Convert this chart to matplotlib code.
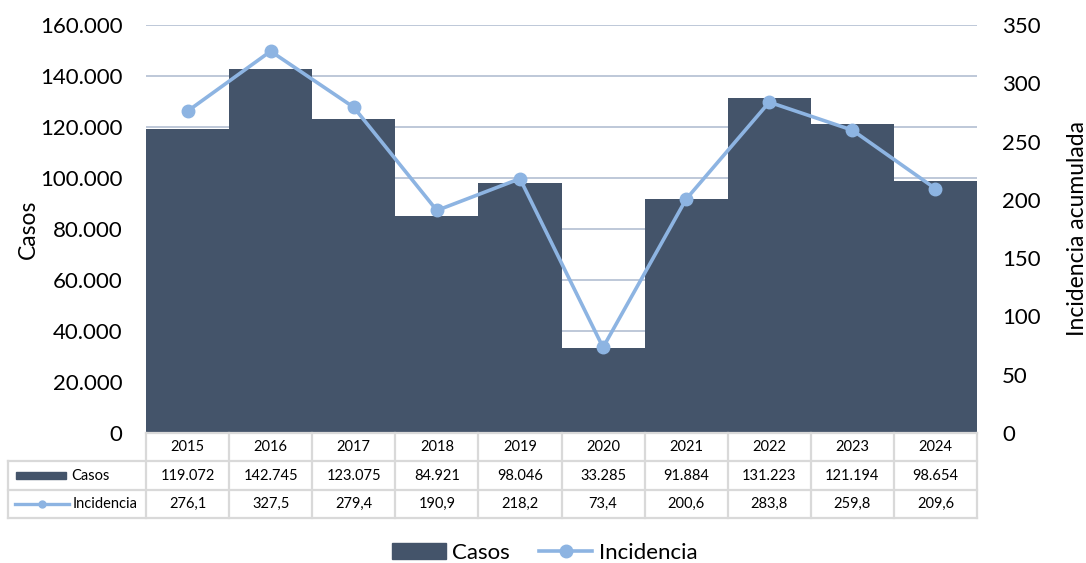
import matplotlib
matplotlib.use("Agg")
import matplotlib.pyplot as plt
from matplotlib.patches import Rectangle
from matplotlib.lines import Line2D

plt.rcParams['font.family'] = ['Lato', 'DejaVu Sans']

years = ["2015", "2016", "2017", "2018", "2019", "2020", "2021", "2022", "2023", "2024"]
casos = [119072, 142745, 123075, 84921, 98046, 33285, 91884, 131223, 121194, 98654]
incidencia = [276.1, 327.5, 279.4, 190.9, 218.2, 73.4, 200.6, 283.8, 259.8, 209.6]
left_ticks = [0, 20000, 40000, 60000, 80000, 100000, 120000, 140000, 160000]
right_ticks = [0, 50, 100, 150, 200, 250, 300, 350]

BAR = "#44546A"
LINE = "#8DB4E2"
GRID = "#B9C4D6"
BORDER = "#D9D9D9"
TXT = "#000000"

def fmt_int(v):
    return f"{v:,}".replace(",", ".")

def fmt_dec(v):
    return f"{v:.1f}".replace(".", ",")

W, H = 1086, 563
fig = plt.figure(figsize=(W / 100, H / 100), dpi=100)

x0, x1 = 146, 977
ytop, ybot = 25, 433
ax = fig.add_axes([x0 / W, (H - ybot) / H, (x1 - x0) / W, (ybot - ytop) / H])
xs = list(range(len(years)))
ax.bar(xs, casos, width=1.0, color=BAR, zorder=2, linewidth=0)
ax.set_xlim(-0.5, len(years) - 0.5)
ax.set_ylim(0, 160000)
ax.set_yticks(left_ticks)
ax.set_yticklabels([fmt_int(t) if t else "0" for t in left_ticks])
ax.set_xticks([])
ax.yaxis.grid(True, color=GRID, linewidth=1.3, zorder=0)
ax.set_axisbelow(True)
for s in ax.spines.values():
    s.set_visible(False)
ax.tick_params(axis='y', length=0, pad=17, labelsize=16, labelcolor=TXT)
ax.set_ylabel("Casos", fontsize=16.5, labelpad=1)

ax2 = ax.twinx()
ax2.plot(xs, incidencia, color=LINE, linewidth=2.6, marker='o', markersize=9, zorder=3)
ax2.set_ylim(0, 350)
ax2.set_yticks(right_ticks)
for s in ax2.spines.values():
    s.set_visible(False)
ax2.tick_params(axis='y', length=0, pad=18, labelsize=16, labelcolor=TXT)
ax2.set_ylabel("Incidencia acumulada", fontsize=16.5, labelpad=19)

# data table
tx0, tx1 = 8, 977
tyt, tyb = 433, 518
colw = (x1 - x0) / len(years)
lab_cols = (x0 - tx0) / colw
tax = fig.add_axes([tx0 / W, (H - tyb) / H, (tx1 - tx0) / W, (tyb - tyt) / H])
tax.set_xlim(-0.5 - lab_cols, len(years) - 0.5)
tax.set_ylim(3, 0)
tax.axis('off')
lw = 1.6
for i in range(len(years) + 1):
    xv = -0.5 + i
    tax.plot([xv, xv], [0, 3], color=BORDER, lw=lw, clip_on=False)
for yv in [1, 2, 3]:
    tax.plot([-0.5 - lab_cols, len(years) - 0.5], [yv, yv], color=BORDER, lw=lw, clip_on=False)
tax.plot([-0.5 - lab_cols, -0.5 - lab_cols], [1, 3], color=BORDER, lw=lw, clip_on=False)
tax.plot([-0.5, len(years) - 0.5], [0, 0], color=BORDER, lw=lw, clip_on=False)

fs_t = 10.5
for i, yr in enumerate(years):
    tax.text(i, 0.5, yr, ha='center', va='center', fontsize=fs_t, color=TXT)
    tax.text(i, 1.5, fmt_int(casos[i]), ha='center', va='center', fontsize=fs_t, color=TXT)
    tax.text(i, 2.5, fmt_dec(incidencia[i]), ha='center', va='center', fontsize=fs_t, color=TXT)

lx = -0.5 - lab_cols
px = 1 / colw
tax.add_patch(Rectangle((lx + 8 * px, 1.37), 50 * px, 0.26, color=BAR, clip_on=False))
tax.text(lx + 63 * px, 1.5, "Casos", ha='left', va='center', fontsize=fs_t, color=TXT)
tax.plot([lx + 7 * px, lx + 61 * px], [2.5, 2.5], color=LINE, lw=2.4, clip_on=False)
tax.plot([lx + 34 * px], [2.5], marker='o', color=LINE, markersize=5, clip_on=False)
tax.text(lx + 65 * px, 2.5, "Incidencia", ha='left', va='center', fontsize=fs_t, color=TXT)

h1 = Rectangle((0, 0), 1, 1, color=BAR)
h2 = Line2D([], [], color=LINE, lw=2.6, marker='o', markersize=9)
fig.legend([h1, h2], ["Casos", "Incidencia"], loc='center', bbox_to_anchor=(545 / W, (H - 553) / H),
           ncol=2, frameon=False, fontsize=16, handlelength=2.4, handletextpad=0.3, columnspacing=1.3)

fig.savefig("out.png", dpi=100)
